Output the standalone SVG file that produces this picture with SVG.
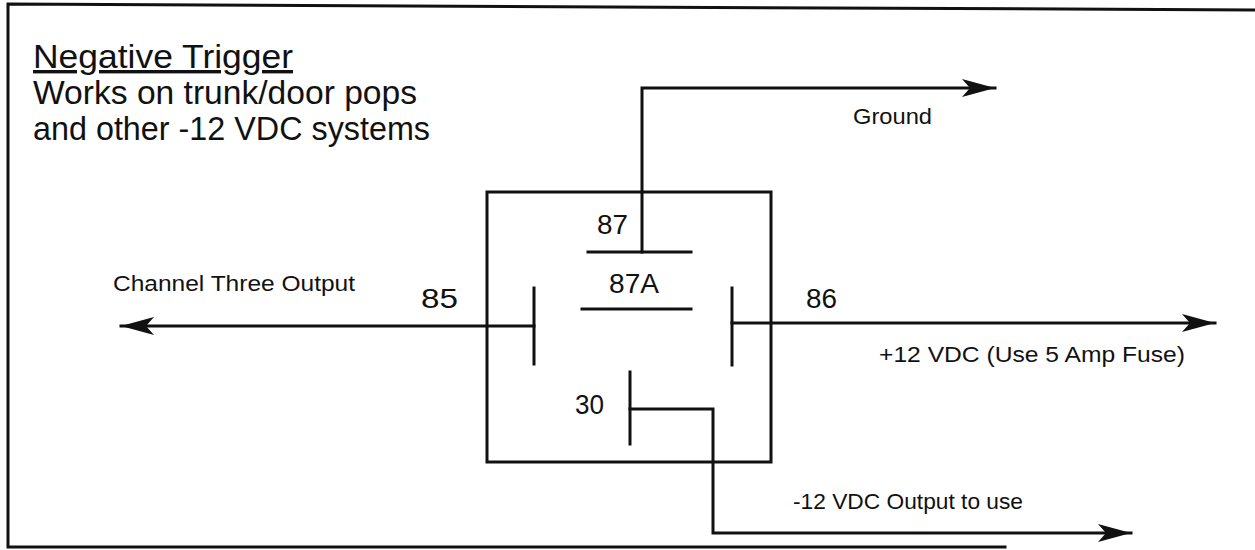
<svg xmlns="http://www.w3.org/2000/svg" width="1255" height="550" viewBox="0 0 1255 550">
<style>
.ln{fill:none;stroke:#111;stroke-width:3;stroke-linecap:square}
.t{font-family:"Liberation Sans",Arial,sans-serif;fill:#111}
.big{font-size:34px}
.num{font-size:27px}
.sm{font-size:22px}
</style>
<defs>
<marker id="ah" markerWidth="36" markerHeight="22" refX="33" refY="11" orient="auto" markerUnits="userSpaceOnUse">
<path d="M0,2 L33,11 L0,20 L8,11 Z" fill="#111"/>
</marker>
</defs>
<rect width="1255" height="550" fill="#fff"/>
<g id="frame">
<path class="ln" d="M1255,10 L8,4 L8,547 L1005,547" stroke-width="2"/>
</g>
<g id="title">
<text class="t big" x="33" y="68" textLength="260" lengthAdjust="spacingAndGlyphs" text-decoration="underline">Negative Trigger</text>
<text class="t big" x="33" y="104" textLength="384" lengthAdjust="spacingAndGlyphs">Works on trunk/door pops</text>
<text class="t big" x="33" y="140" textLength="397" lengthAdjust="spacingAndGlyphs">and other -12 VDC systems</text>
</g>
<g id="relay">
<rect class="ln" x="487" y="192" width="284" height="270"/>
<line class="ln" x1="588" y1="252" x2="691" y2="252"/>
<line class="ln" x1="582" y1="309" x2="691" y2="309"/>
<line class="ln" x1="534" y1="288" x2="534" y2="364"/>
<line class="ln" x1="732" y1="288" x2="732" y2="365"/>
<line class="ln" x1="630" y1="372" x2="630" y2="444"/>
<text class="t num" x="597" y="234" textLength="31" lengthAdjust="spacingAndGlyphs">87</text>
<text class="t num" x="609" y="293" textLength="50" lengthAdjust="spacingAndGlyphs">87A</text>
<text class="t num" x="421" y="308" textLength="37" lengthAdjust="spacingAndGlyphs">85</text>
<text class="t num" x="806" y="308" textLength="31" lengthAdjust="spacingAndGlyphs">86</text>
<text class="t num" x="575" y="414" textLength="29" lengthAdjust="spacingAndGlyphs">30</text>
</g>
<g id="connectors">
<path class="ln" d="M642,252 L642,88 L995,88" marker-end="url(#ah)"/>
<path class="ln" d="M534,326 L121,326" marker-end="url(#ah)"/>
<path class="ln" d="M732,323 L1215,323" marker-end="url(#ah)"/>
<path class="ln" d="M630,409 L713,409 L713,533 L1131,533" marker-end="url(#ah)"/>
</g>
<g id="labels">
<text class="t sm" x="853" y="124" textLength="79" lengthAdjust="spacingAndGlyphs">Ground</text>
<text class="t sm" x="113" y="291" textLength="242" lengthAdjust="spacingAndGlyphs">Channel Three Output</text>
<text class="t sm" x="879" y="362" textLength="306" lengthAdjust="spacingAndGlyphs">+12 VDC (Use 5 Amp Fuse)</text>
<text class="t sm" x="793" y="509" textLength="230" lengthAdjust="spacingAndGlyphs">-12 VDC Output to use</text>
</g>
</svg>
